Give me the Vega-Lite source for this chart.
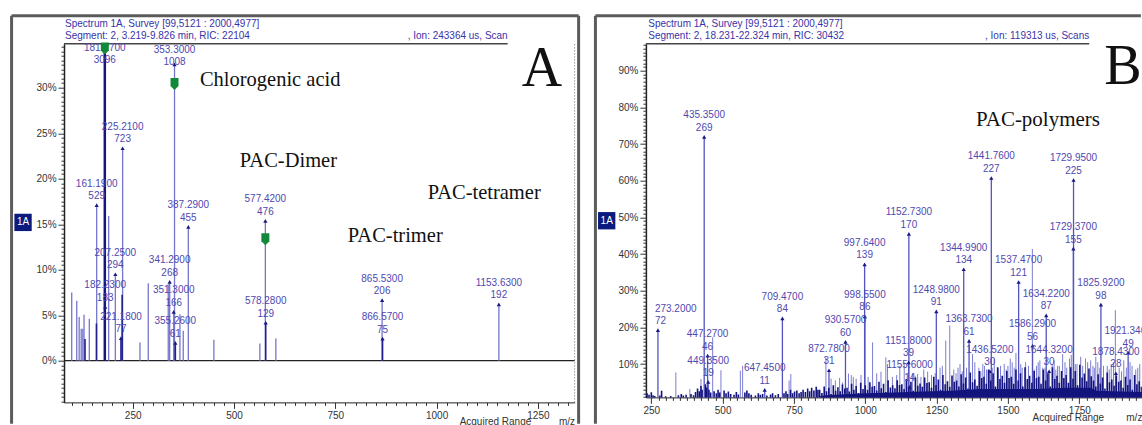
{
"$schema": "https://vega.github.io/schema/vega-lite/v6.json",
"background": "white",
"padding": {"left": 10, "top": 13.7, "right": 0, "bottom": 0},
"spacing": 12.9,
"config": {"view": {"stroke": null}, "font": "Liberation Sans",
 "axis": {"labelFont": "Liberation Sans", "labelFontSize": 10, "labelColor": "#333", "domainColor": "#222", "tickColor": "#333", "grid": false, "labelOverlap": false, "labelFlush": false, "labelPadding": 2, "titleFont": "Liberation Sans"}},
"datasets": {
 "pA": [
  {"mz": 99.6, "pct": 7.5, "tone": "light"},
  {"mz": 112, "pct": 6.6, "tone": "light"},
  {"mz": 118, "pct": 4.8, "tone": "light"},
  {"mz": 123, "pct": 3.5, "tone": "light"},
  {"mz": 127, "pct": 3.5, "tone": "light"},
  {"mz": 130, "pct": 5.05, "tone": "light"},
  {"mz": 132.4, "pct": 2.4, "tone": "dark"},
  {"mz": 143, "pct": 4.6, "tone": "light"},
  {"mz": 161.19, "pct": 17.09, "tone": "light", "lbl": "161.1900\n529"},
  {"mz": 160.6, "pct": 4.1, "tone": "dark"},
  {"mz": 181.27, "pct": 100, "tone": "base"},
  {"mz": 182.23, "pct": 5.91, "tone": "dark", "lbl": "182.2300\n183"},
  {"mz": 190.8, "pct": 15.9, "tone": "light"},
  {"mz": 207.25, "pct": 9.5, "tone": "light", "lbl": "207.2500\n294"},
  {"mz": 221.18, "pct": 2.49, "tone": "dark", "lbl": "221.1800\n77"},
  {"mz": 224, "pct": 7.25, "tone": "dark"},
  {"mz": 225.21, "pct": 23.35, "tone": "light", "lbl": "225.2100\n723"},
  {"mz": 268, "pct": 2.0, "tone": "light"},
  {"mz": 288.5, "pct": 8.5, "tone": "light"},
  {"mz": 337.8, "pct": 8.4, "tone": "light"},
  {"mz": 341.29, "pct": 8.66, "tone": "light", "lbl": "341.2900\n268"},
  {"mz": 351.3, "pct": 5.36, "tone": "light", "lbl": "351.3000\n166"},
  {"mz": 353.3, "pct": 32.56, "tone": "light", "lbl": "353.3000\n1008"},
  {"mz": 355.26, "pct": 1.97, "tone": "dark", "lbl": "355.2600\n61"},
  {"mz": 366.6, "pct": 5.1, "tone": "light"},
  {"mz": 374.8, "pct": 3.3, "tone": "light"},
  {"mz": 387.29, "pct": 14.7, "tone": "light", "lbl": "387.2900\n455"},
  {"mz": 450.4, "pct": 2.3, "tone": "light"},
  {"mz": 563.9, "pct": 1.9, "tone": "light"},
  {"mz": 577.42, "pct": 15.37, "tone": "light", "lbl": "577.4200\n476"},
  {"mz": 578.28, "pct": 4.17, "tone": "dark", "lbl": "578.2800\n129"},
  {"mz": 603.3, "pct": 2.45, "tone": "light"},
  {"mz": 865.53, "pct": 6.65, "tone": "light", "lbl": "865.5300\n206"},
  {"mz": 866.57, "pct": 2.42, "tone": "dark", "lbl": "866.5700\n75"},
  {"mz": 1153.63, "pct": 6.2, "tone": "light", "lbl": "1153.6300\n192"}
 ],
 "greenA": [{"mz": 181.27, "pct": 34.3}, {"mz": 353.3, "pct": 30.4}, {"mz": 577.42, "pct": 13.35}],
 "annA": [
  {"mz": 416, "pct": 30.2, "txt": "Chlorogenic acid"},
  {"mz": 514.5, "pct": 21.3, "txt": "PAC-Dimer"},
  {"mz": 978, "pct": 17.8, "txt": "PAC-tetramer"},
  {"mz": 781, "pct": 13.1, "txt": "PAC-trimer"}
 ],
 "hdrA": [
  {"mz": 83.1, "pct": 37.0, "txt": "Spectrum 1A, Survey [99,5121 : 2000,4977]"},
  {"mz": 83.1, "pct": 35.71, "txt": "Segment: 2, 3.219-9.826 min, RIC: 22104"}
 ],
 "peakB": [
  {"mz": 273.2, "pct": 19.27, "lbl": "273.2000\n72"},
  {"mz": 435.35, "pct": 72.0, "lbl": "435.3500\n269"},
  {"mz": 447.27, "pct": 12.31, "lbl": "447.2700\n46"},
  {"mz": 449.35, "pct": 5.09, "lbl": "449.3500\n19"},
  {"mz": 647.45, "pct": 2.94, "lbl": "647.4500\n11"},
  {"mz": 709.47, "pct": 22.48, "lbl": "709.4700\n84"},
  {"mz": 872.78, "pct": 8.3, "lbl": "872.7800\n31"},
  {"mz": 930.57, "pct": 16.06, "lbl": "930.5700\n60"},
  {"mz": 997.64, "pct": 37.21, "lbl": "997.6400\n139"},
  {"mz": 998.55, "pct": 23.02, "lbl": "998.5500\n86"},
  {"mz": 1151.8, "pct": 10.44, "lbl": "1151.8000\n39"},
  {"mz": 1152.73, "pct": 45.5, "lbl": "1152.7300\n170"},
  {"mz": 1155.6, "pct": 3.75, "lbl": "1155.6000\n14"},
  {"mz": 1248.98, "pct": 24.36, "lbl": "1248.9800\n91"},
  {"mz": 1344.99, "pct": 35.87, "lbl": "1344.9900\n134"},
  {"mz": 1363.73, "pct": 16.33, "lbl": "1363.7300\n61"},
  {"mz": 1436.52, "pct": 8.03, "lbl": "1436.5200\n30"},
  {"mz": 1441.76, "pct": 60.76, "lbl": "1441.7600\n227"},
  {"mz": 1537.47, "pct": 32.39, "lbl": "1537.4700\n121"},
  {"mz": 1586.29, "pct": 14.99, "lbl": "1586.2900\n56"},
  {"mz": 1634.22, "pct": 23.29, "lbl": "1634.2200\n87"},
  {"mz": 1644.32, "pct": 8.03, "lbl": "1644.3200\n30"},
  {"mz": 1729.37, "pct": 41.49, "lbl": "1729.3700\n155"},
  {"mz": 1729.95, "pct": 60.22, "lbl": "1729.9500\n225"},
  {"mz": 1825.92, "pct": 26.23, "lbl": "1825.9200\n98"},
  {"mz": 1878.43, "pct": 7.49, "lbl": "1878.4300\n28"},
  {"mz": 1921.34, "pct": 13.12, "lbl": "1921.3400\n49"}
 ],
 "spikeB": [
  {"mz": 336, "pct": 7.7}, {"mz": 385, "pct": 3.2}, {"mz": 424, "pct": 5.9}, {"mz": 465, "pct": 17.3}, {"mz": 494, "pct": 8.3},
  {"mz": 562, "pct": 8.2}, {"mz": 570, "pct": 9.5}, {"mz": 733, "pct": 5.5}, {"mz": 739, "pct": 7.3}, {"mz": 862, "pct": 11.8},
  {"mz": 880, "pct": 6.0}, {"mz": 895, "pct": 5.5}, {"mz": 910, "pct": 6.2}, {"mz": 920, "pct": 5.0}, {"mz": 941, "pct": 7.4},
  {"mz": 951, "pct": 7.0}, {"mz": 958, "pct": 6.5}, {"mz": 968, "pct": 6.0}, {"mz": 985, "pct": 7.0}, {"mz": 1010, "pct": 6.5},
  {"mz": 1025.6, "pct": 15.9}, {"mz": 1040, "pct": 7.5}, {"mz": 1055, "pct": 7.9}, {"mz": 1072, "pct": 11.8}, {"mz": 1078, "pct": 10.0},
  {"mz": 1095, "pct": 6.5}, {"mz": 1110, "pct": 7.0}, {"mz": 1121, "pct": 9.5}, {"mz": 1136.5, "pct": 10.5}, {"mz": 1150, "pct": 6.0},
  {"mz": 1165, "pct": 7.5}, {"mz": 1175, "pct": 6.8}, {"mz": 1183.5, "pct": 7.3}, {"mz": 1195, "pct": 6.5}, {"mz": 1205, "pct": 8.5},
  {"mz": 1218.6, "pct": 7.9}, {"mz": 1232, "pct": 7.0}, {"mz": 1245, "pct": 7.5}, {"mz": 1262, "pct": 9.0}, {"mz": 1270, "pct": 9.5},
  {"mz": 1282, "pct": 16.4}, {"mz": 1296, "pct": 20.5}, {"mz": 1310, "pct": 8.5}, {"mz": 1318, "pct": 7.5}, {"mz": 1325, "pct": 9.0},
  {"mz": 1332, "pct": 10.0}, {"mz": 1340, "pct": 8.0}, {"mz": 1355, "pct": 9.0}, {"mz": 1376, "pct": 12.7}, {"mz": 1384, "pct": 10.5},
  {"mz": 1398, "pct": 9.0}, {"mz": 1405, "pct": 8.0}, {"mz": 1412, "pct": 10.0}, {"mz": 1418, "pct": 9.5}, {"mz": 1425, "pct": 8.5},
  {"mz": 1445, "pct": 9.0}, {"mz": 1452, "pct": 11.5}, {"mz": 1466, "pct": 8.8}, {"mz": 1474, "pct": 9.5}, {"mz": 1487, "pct": 10.0},
  {"mz": 1494, "pct": 8.5}, {"mz": 1500, "pct": 9.5}, {"mz": 1508, "pct": 11.5}, {"mz": 1515, "pct": 10.5}, {"mz": 1522, "pct": 9.0},
  {"mz": 1528, "pct": 13.0}, {"mz": 1545, "pct": 10.0}, {"mz": 1550, "pct": 9.0}, {"mz": 1562, "pct": 10.5}, {"mz": 1572, "pct": 9.5},
  {"mz": 1585.6, "pct": 41.4}, {"mz": 1592, "pct": 8.5}, {"mz": 1600, "pct": 9.5}, {"mz": 1606, "pct": 10.5}, {"mz": 1612, "pct": 11.0},
  {"mz": 1622, "pct": 9.0}, {"mz": 1630, "pct": 9.0}, {"mz": 1655, "pct": 10.0}, {"mz": 1662, "pct": 11.0}, {"mz": 1668, "pct": 8.5},
  {"mz": 1674, "pct": 9.5}, {"mz": 1680, "pct": 9.5}, {"mz": 1691.7, "pct": 12.7}, {"mz": 1700, "pct": 10.5}, {"mz": 1706, "pct": 9.0},
  {"mz": 1716, "pct": 11.5}, {"mz": 1722, "pct": 12.5}, {"mz": 1736, "pct": 10.0}, {"mz": 1742, "pct": 10.0}, {"mz": 1755, "pct": 12.0},
  {"mz": 1762, "pct": 9.5}, {"mz": 1772, "pct": 11.5}, {"mz": 1779.4, "pct": 10.5}, {"mz": 1790, "pct": 11.0}, {"mz": 1798, "pct": 9.5},
  {"mz": 1803, "pct": 9.0}, {"mz": 1808, "pct": 12.0}, {"mz": 1815, "pct": 10.5}, {"mz": 1822, "pct": 9.0}, {"mz": 1835, "pct": 9.5},
  {"mz": 1848, "pct": 9.5}, {"mz": 1855, "pct": 8.5}, {"mz": 1862, "pct": 10.0}, {"mz": 1870, "pct": 10.5}, {"mz": 1876.5, "pct": 24.7},
  {"mz": 1890, "pct": 9.0}, {"mz": 1898, "pct": 8.0}, {"mz": 1906, "pct": 11.0}, {"mz": 1915, "pct": 9.0}, {"mz": 1928, "pct": 10.5},
  {"mz": 1935, "pct": 9.5}, {"mz": 1948, "pct": 8.5}, {"mz": 1955, "pct": 9.0}, {"mz": 1962, "pct": 10.0}
 ],
 "baseB": [
  {"mz": 842, "pct": 1.3}, {"mz": 860, "pct": 1.5}, {"mz": 1000, "pct": 2.0}, {"mz": 1100, "pct": 2.2},
  {"mz": 1200, "pct": 2.5}, {"mz": 1300, "pct": 2.7}, {"mz": 1400, "pct": 3.2}, {"mz": 1500, "pct": 3.2}, {"mz": 1600, "pct": 3.2},
  {"mz": 1700, "pct": 3.5}, {"mz": 1790, "pct": 3.5}, {"mz": 1810, "pct": 2.7}, {"mz": 1900, "pct": 2.5}, {"mz": 1969.5, "pct": 2.4}
 ],
 "grassB": [
  {"mz": 235, "pct": 2.0}, {"mz": 242, "pct": 1.6}, {"mz": 250, "pct": 2.3}, {"mz": 256, "pct": 1.5}, {"mz": 262, "pct": 1.3},
  {"mz": 280, "pct": 1.4}, {"mz": 286, "pct": 2.7}, {"mz": 300, "pct": 1.2}, {"mz": 318, "pct": 1.3}, {"mz": 345, "pct": 1.5},
  {"mz": 355, "pct": 1.8}, {"mz": 362, "pct": 1.4}, {"mz": 372, "pct": 1.6}, {"mz": 389, "pct": 1.8}, {"mz": 398, "pct": 1.5},
  {"mz": 405, "pct": 2.4}, {"mz": 412, "pct": 3.3}, {"mz": 418, "pct": 2.6}, {"mz": 424, "pct": 4.0}, {"mz": 428, "pct": 3.0},
  {"mz": 440, "pct": 4.5}, {"mz": 444, "pct": 3.6}, {"mz": 452, "pct": 3.0}, {"mz": 458, "pct": 2.2}, {"mz": 470, "pct": 2.6},
  {"mz": 478, "pct": 2.0}, {"mz": 484, "pct": 3.0}, {"mz": 490, "pct": 2.2}, {"mz": 505, "pct": 2.8}, {"mz": 512, "pct": 2.0},
  {"mz": 520, "pct": 2.5}, {"mz": 528, "pct": 1.8}, {"mz": 540, "pct": 1.6}, {"mz": 548, "pct": 2.4}, {"mz": 555, "pct": 1.7},
  {"mz": 578, "pct": 2.2}, {"mz": 585, "pct": 2.8}, {"mz": 592, "pct": 2.0}, {"mz": 600, "pct": 1.6}, {"mz": 615, "pct": 1.4},
  {"mz": 625, "pct": 2.0}, {"mz": 632, "pct": 1.6}, {"mz": 640, "pct": 1.8}, {"mz": 655, "pct": 1.4}, {"mz": 668, "pct": 1.7},
  {"mz": 675, "pct": 2.0}, {"mz": 685, "pct": 1.5}, {"mz": 695, "pct": 1.8}, {"mz": 715, "pct": 2.0}, {"mz": 722, "pct": 2.6},
  {"mz": 728, "pct": 1.8}, {"mz": 738, "pct": 3.0}, {"mz": 745, "pct": 2.0}, {"mz": 752, "pct": 2.5}, {"mz": 760, "pct": 2.8},
  {"mz": 768, "pct": 2.0}, {"mz": 775, "pct": 2.4}, {"mz": 782, "pct": 3.0}, {"mz": 790, "pct": 2.4}, {"mz": 798, "pct": 3.3},
  {"mz": 805, "pct": 2.6}, {"mz": 812, "pct": 3.5}, {"mz": 820, "pct": 2.8}, {"mz": 828, "pct": 3.8}, {"mz": 834, "pct": 3.0},
  {"mz": 840, "pct": 3.0}, {"mz": 848, "pct": 2.1}, {"mz": 856, "pct": 3.9}, {"mz": 864, "pct": 2.6}, {"mz": 872, "pct": 3.5},
  {"mz": 880, "pct": 1.8}, {"mz": 888, "pct": 4.2}, {"mz": 896, "pct": 2.7}, {"mz": 904, "pct": 3.7}, {"mz": 912, "pct": 2.6},
  {"mz": 920, "pct": 4.4}, {"mz": 928, "pct": 3.3}, {"mz": 936, "pct": 3.5}, {"mz": 944, "pct": 2.5}, {"mz": 952, "pct": 4.6},
  {"mz": 960, "pct": 3.0}, {"mz": 968, "pct": 4.0}, {"mz": 976, "pct": 2.1}, {"mz": 984, "pct": 4.9}, {"mz": 992, "pct": 3.2},
  {"mz": 1000, "pct": 4.2}, {"mz": 1008, "pct": 3.0}, {"mz": 1016, "pct": 5.0}, {"mz": 1024, "pct": 3.8}, {"mz": 1032, "pct": 4.0},
  {"mz": 1040, "pct": 2.8}, {"mz": 1048, "pct": 5.2}, {"mz": 1056, "pct": 3.4}, {"mz": 1064, "pct": 4.6}, {"mz": 1072, "pct": 2.4},
  {"mz": 1080, "pct": 5.6}, {"mz": 1088, "pct": 3.6}, {"mz": 1096, "pct": 4.2}, {"mz": 1104, "pct": 3.4}, {"mz": 1112, "pct": 5.6},
  {"mz": 1120, "pct": 4.3}, {"mz": 1128, "pct": 4.5}, {"mz": 1136, "pct": 3.2}, {"mz": 1144, "pct": 5.9}, {"mz": 1152, "pct": 3.8},
  {"mz": 1160, "pct": 5.2}, {"mz": 1168, "pct": 2.7}, {"mz": 1176, "pct": 6.3}, {"mz": 1184, "pct": 4.1}, {"mz": 1192, "pct": 4.7},
  {"mz": 1200, "pct": 3.8}, {"mz": 1208, "pct": 6.3}, {"mz": 1216, "pct": 4.8}, {"mz": 1224, "pct": 5.0}, {"mz": 1232, "pct": 3.5},
  {"mz": 1240, "pct": 6.5}, {"mz": 1248, "pct": 4.3}, {"mz": 1256, "pct": 5.8}, {"mz": 1264, "pct": 3.0}, {"mz": 1272, "pct": 7.0},
  {"mz": 1280, "pct": 4.5}, {"mz": 1288, "pct": 5.3}, {"mz": 1296, "pct": 3.8}, {"mz": 1304, "pct": 6.9}, {"mz": 1312, "pct": 5.2},
  {"mz": 1320, "pct": 5.5}, {"mz": 1328, "pct": 3.9}, {"mz": 1336, "pct": 7.2}, {"mz": 1344, "pct": 4.7}, {"mz": 1352, "pct": 6.3},
  {"mz": 1360, "pct": 3.3}, {"mz": 1368, "pct": 7.7}, {"mz": 1376, "pct": 5.0}, {"mz": 1384, "pct": 5.8}, {"mz": 1392, "pct": 4.1},
  {"mz": 1400, "pct": 8.1}, {"mz": 1408, "pct": 6.2}, {"mz": 1416, "pct": 6.5}, {"mz": 1424, "pct": 4.6}, {"mz": 1432, "pct": 8.5},
  {"mz": 1440, "pct": 5.5}, {"mz": 1448, "pct": 7.5}, {"mz": 1456, "pct": 3.9}, {"mz": 1464, "pct": 9.1}, {"mz": 1472, "pct": 5.9},
  {"mz": 1480, "pct": 6.8}, {"mz": 1488, "pct": 4.9}, {"mz": 1496, "pct": 8.1}, {"mz": 1504, "pct": 6.2}, {"mz": 1512, "pct": 6.5},
  {"mz": 1520, "pct": 4.6}, {"mz": 1528, "pct": 8.5}, {"mz": 1536, "pct": 5.5}, {"mz": 1544, "pct": 7.5}, {"mz": 1552, "pct": 3.9},
  {"mz": 1560, "pct": 9.1}, {"mz": 1568, "pct": 5.9}, {"mz": 1576, "pct": 6.8}, {"mz": 1584, "pct": 4.9}, {"mz": 1592, "pct": 8.1},
  {"mz": 1600, "pct": 6.2}, {"mz": 1608, "pct": 6.5}, {"mz": 1616, "pct": 4.6}, {"mz": 1624, "pct": 8.5}, {"mz": 1632, "pct": 5.5},
  {"mz": 1640, "pct": 7.5}, {"mz": 1648, "pct": 3.9}, {"mz": 1656, "pct": 9.1}, {"mz": 1664, "pct": 5.9}, {"mz": 1672, "pct": 6.8},
  {"mz": 1680, "pct": 4.9}, {"mz": 1688, "pct": 8.1}, {"mz": 1696, "pct": 6.2}, {"mz": 1704, "pct": 7.0}, {"mz": 1712, "pct": 4.9},
  {"mz": 1720, "pct": 9.1}, {"mz": 1728, "pct": 6.0}, {"mz": 1736, "pct": 8.1}, {"mz": 1744, "pct": 4.2}, {"mz": 1752, "pct": 9.8},
  {"mz": 1760, "pct": 6.3}, {"mz": 1768, "pct": 7.4}, {"mz": 1776, "pct": 5.3}, {"mz": 1784, "pct": 8.8}, {"mz": 1792, "pct": 6.7},
  {"mz": 1800, "pct": 5.5}, {"mz": 1808, "pct": 3.9}, {"mz": 1816, "pct": 7.2}, {"mz": 1824, "pct": 4.7}, {"mz": 1832, "pct": 6.3},
  {"mz": 1840, "pct": 3.3}, {"mz": 1848, "pct": 7.7}, {"mz": 1856, "pct": 5.0}, {"mz": 1864, "pct": 5.8}, {"mz": 1872, "pct": 4.1},
  {"mz": 1880, "pct": 6.9}, {"mz": 1888, "pct": 5.2}, {"mz": 1896, "pct": 5.5}, {"mz": 1904, "pct": 3.5}, {"mz": 1912, "pct": 6.5},
  {"mz": 1920, "pct": 4.3}, {"mz": 1928, "pct": 5.8}, {"mz": 1936, "pct": 3.0}, {"mz": 1944, "pct": 7.0}, {"mz": 1952, "pct": 4.5},
  {"mz": 1960, "pct": 5.3}, {"mz": 1968, "pct": 3.8}
 ],
 "hdrB": [
  {"mz": 239.2, "pct": 102.75, "txt": "Spectrum 1A, Survey [99,5121 : 2000,4977]"},
  {"mz": 239.2, "pct": 99.56, "txt": "Segment: 2, 18.231-22.324 min, RIC: 30432"}
 ]
},
"hconcat": [
 {
  "width": 510.6, "height": 358.7,
  "layer": [
   {"data": {"values": [{}]}, "mark": {"type": "rule", "stroke": "#5b5b5b", "strokeWidth": 3},
    "encoding": {
     "x": {"datum": -48.8, "type": "quantitative", "scale": {"domain": [80.6, 1340.5], "nice": false, "zero": false},
      "axis": {"values": [100,125,150,175,200,225,250,275,300,325,350,375,400,425,450,475,500,525,550,575,600,625,650,675,700,725,750,775,800,825,850,875,900,925,950,975,1000,1025,1050,1075,1100,1125,1150,1175,1200,1225,1250,1275,1300,1325],
       "tickCount": 1000, "format": "d", "labelExpr": "datum.value % 250 === 0 ? datum.label : ''", "labelOverlap": false,
       "tickSize": {"condition": {"test": "datum.value % 250 === 0", "value": 6}, "value": 3},
       "title": "Acquired Range\u00a0\u00a0\u00a0\u00a0\u00a0\u00a0\u00a0\u00a0\u00a0\u00a0m/z", "titleAnchor": "end", "titleFontWeight": "normal", "titleFontSize": 10, "titleColor": "#333", "titlePadding": -4}},
     "y": {"datum": -6.92, "type": "quantitative", "scale": {"domain": [-4.58, 34.84], "nice": false, "zero": false},
      "axis": {"values": [-4.5,-4,-3.5,-3,-2.5,-2,-1.5,-1,-0.5,0,0.5,1,1.5,2,2.5,3,3.5,4,4.5,5,5.5,6,6.5,7,7.5,8,8.5,9,9.5,10,10.5,11,11.5,12,12.5,13,13.5,14,14.5,15,15.5,16,16.5,17,17.5,18,18.5,19,19.5,20,20.5,21,21.5,22,22.5,23,23.5,24,24.5,25,25.5,26,26.5,27,27.5,28,28.5,29,29.5,30,30.5,31,31.5,32,32.5,33,33.5,34,34.5],
       "tickCount": 1000, "labelExpr": "datum.value % 5 === 0 ? datum.value + '%' : ''", "labelOverlap": false,
       "tickSize": {"condition": {"test": "datum.value % 5 === 0", "value": 6}, "value": 3},
       "title": null, "domainWidth": 1.5}},
     "y2": {"datum": 37.9}}},
   {"data": {"values": [{}]}, "mark": {"type": "rule", "stroke": "#5b5b5b", "strokeWidth": 3},
    "encoding": {"x": {"datum": -48.8}, "x2": {"datum": 1350.4}, "y": {"datum": 37.9}}},
   {"data": {"values": [{}]}, "mark": {"type": "rule", "stroke": "#5b5b5b", "strokeWidth": 3},
    "encoding": {"x": {"datum": 1350.4}, "y": {"datum": -6.92}, "y2": {"datum": 37.9}}},
   {"data": {"values": [{}]}, "mark": {"type": "rule", "stroke": "#666", "strokeWidth": 1, "strokeDash": [1, 2]},
    "encoding": {"x": {"datum": 1340.5}, "y": {"datum": -4.58}, "y2": {"datum": 34.84}}},
   {"data": {"values": [{}]}, "mark": {"type": "rule", "stroke": "#444", "strokeWidth": 1.5},
    "encoding": {"x": {"datum": 80.6}, "x2": {"datum": 1175.3}, "y": {"datum": 34.84}}},
   {"data": {"values": [{}]}, "mark": {"type": "rule", "stroke": "#222", "strokeWidth": 1.2},
    "encoding": {"y": {"datum": 0}}},
   {"data": {"name": "pA"}, "transform": [{"filter": "datum.tone === 'light'"}],
    "mark": {"type": "rule", "stroke": "#7676cc", "strokeWidth": 1.3, "clip": true},
    "encoding": {"x": {"field": "mz", "type": "quantitative"}, "y": {"field": "pct", "type": "quantitative"}, "y2": {"datum": 0}}},
   {"data": {"name": "pA"}, "transform": [{"filter": "datum.tone === 'dark'"}],
    "mark": {"type": "rule", "stroke": "#20208e", "strokeWidth": 1.6, "clip": true},
    "encoding": {"x": {"field": "mz", "type": "quantitative"}, "y": {"field": "pct", "type": "quantitative"}, "y2": {"datum": 0}}},
   {"data": {"name": "pA"}, "transform": [{"filter": "datum.tone === 'base'"}],
    "mark": {"type": "rule", "stroke": "#15157f", "strokeWidth": 2.5, "clip": true},
    "encoding": {"x": {"field": "mz", "type": "quantitative"}, "y": {"field": "pct", "type": "quantitative"}, "y2": {"datum": 0}}},
   {"data": {"name": "pA"}, "transform": [{"filter": "datum.lbl && datum.pct < 34"}],
    "mark": {"type": "point", "shape": "triangle-up", "filled": true, "size": 18, "color": "#1a1a85", "opacity": 1},
    "encoding": {"x": {"field": "mz", "type": "quantitative"}, "y": {"field": "pct", "type": "quantitative"}}},
   {"data": {"name": "pA"}, "transform": [{"filter": "datum.lbl && datum.pct < 30"}],
    "mark": {"type": "text", "baseline": "bottom", "align": "center", "dy": -16.5, "fontSize": 10, "lineHeight": 12.5, "lineBreak": "\n", "color": "#5048b0"},
    "encoding": {"x": {"field": "mz", "type": "quantitative"}, "y": {"field": "pct", "type": "quantitative"}, "text": {"field": "lbl"}}},
   {"data": {"name": "pA"}, "transform": [{"filter": "datum.lbl && datum.pct > 30 && datum.pct < 34"}],
    "mark": {"type": "text", "baseline": "bottom", "align": "center", "dy": -9.5, "fontSize": 10, "lineHeight": 12.5, "lineBreak": "\n", "color": "#5048b0"},
    "encoding": {"x": {"field": "mz", "type": "quantitative"}, "y": {"field": "pct", "type": "quantitative"}, "text": {"field": "lbl"}}},
   {"data": {"values": [{"mz": 181.27, "pct": 34.84, "lbl": "181.2700\n3096"}]},
    "mark": {"type": "text", "baseline": "top", "align": "center", "dy": -1, "fontSize": 10, "lineHeight": 12.5, "lineBreak": "\n", "color": "#5048b0"},
    "encoding": {"x": {"field": "mz", "type": "quantitative"}, "y": {"field": "pct", "type": "quantitative"}, "text": {"field": "lbl"}}},
   {"data": {"name": "greenA"},
    "mark": {"type": "point", "shape": "M-1,-1.5L1,-1.5L1,0.5L0,1.5L-1,0.5Z", "filled": true, "size": 64, "color": "#12893a", "opacity": 1},
    "encoding": {"x": {"field": "mz", "type": "quantitative"}, "y": {"field": "pct", "type": "quantitative"}}},
   {"data": {"name": "annA"},
    "mark": {"type": "text", "align": "left", "baseline": "alphabetic", "font": "Liberation Serif", "fontSize": 20.5, "color": "#111"},
    "encoding": {"x": {"field": "mz", "type": "quantitative"}, "y": {"field": "pct", "type": "quantitative"}, "text": {"field": "txt"}}},
   {"data": {"values": [{"mz": 1260, "pct": 30.2, "txt": "A"}]},
    "mark": {"type": "text", "align": "center", "baseline": "alphabetic", "font": "Liberation Serif", "fontSize": 56, "color": "#111"},
    "encoding": {"x": {"field": "mz", "type": "quantitative"}, "y": {"field": "pct", "type": "quantitative"}, "text": {"field": "txt"}}},
   {"data": {"name": "hdrA"},
    "mark": {"type": "text", "align": "left", "baseline": "middle", "fontSize": 10, "color": "#3a32a8"},
    "encoding": {"x": {"field": "mz", "type": "quantitative"}, "y": {"field": "pct", "type": "quantitative"}, "text": {"field": "txt"}}},
   {"data": {"values": [{"mz": 1175.3, "pct": 35.71, "txt": ", Ion: 243364 us, Scan"}]},
    "mark": {"type": "text", "align": "right", "baseline": "middle", "fontSize": 10, "color": "#3a32a8"},
    "encoding": {"x": {"field": "mz", "type": "quantitative"}, "y": {"field": "pct", "type": "quantitative"}, "text": {"field": "txt"}}},
   {"data": {"values": [{"mz": -20.5, "pct": 15.2, "txt": "1A"}]},
    "mark": {"type": "point", "shape": "square", "filled": true, "size": 300, "color": "#0b1b7d", "opacity": 1},
    "encoding": {"x": {"field": "mz", "type": "quantitative"}, "y": {"field": "pct", "type": "quantitative"}}},
   {"data": {"values": [{"mz": -20.5, "pct": 15.2, "txt": "1A"}]},
    "mark": {"type": "text", "align": "center", "baseline": "middle", "fontSize": 10, "color": "white"},
    "encoding": {"x": {"field": "mz", "type": "quantitative"}, "y": {"field": "pct", "type": "quantitative"}, "text": {"field": "txt"}}}
  ]
 },
 {
  "width": 496, "height": 353.7,
  "layer": [
   {"data": {"values": [{}]}, "mark": {"type": "rule", "stroke": "#5b5b5b", "strokeWidth": 3},
    "encoding": {
     "x": {"datum": 54.1, "type": "quantitative", "scale": {"domain": [231, 1969.5], "nice": false, "zero": false},
      "axis": {"values": [250,275,300,325,350,375,400,425,450,475,500,525,550,575,600,625,650,675,700,725,750,775,800,825,850,875,900,925,950,975,1000,1025,1050,1075,1100,1125,1150,1175,1200,1225,1250,1275,1300,1325,1350,1375,1400,1425,1450,1475,1500,1525,1550,1575,1600,1625,1650,1675,1700,1725,1750,1775,1800,1825,1850,1875,1900,1925,1950],
       "tickCount": 1000, "format": "d", "labelExpr": "datum.value % 250 === 0 ? datum.label : ''", "labelOverlap": false,
       "tickSize": {"condition": {"test": "datum.value % 250 === 0", "value": 6}, "value": 3},
       "title": "Acquired Range\u00a0\u00a0\u00a0\u00a0\u00a0\u00a0\u00a0\u00a0m/z", "titleAnchor": "end", "titleFontWeight": "normal", "titleFontSize": 10, "titleColor": "#333", "titlePadding": -3}},
     "y": {"datum": -6.3, "type": "quantitative", "scale": {"domain": [0.9, 97.4], "nice": false, "zero": false},
      "axis": {"values": [1,2,3,4,5,6,7,8,9,10,11,12,13,14,15,16,17,18,19,20,21,22,23,24,25,26,27,28,29,30,31,32,33,34,35,36,37,38,39,40,41,42,43,44,45,46,47,48,49,50,51,52,53,54,55,56,57,58,59,60,61,62,63,64,65,66,67,68,69,70,71,72,73,74,75,76,77,78,79,80,81,82,83,84,85,86,87,88,89,90,91,92,93,94,95,96,97],
       "tickCount": 1000, "labelExpr": "datum.value % 10 === 0 ? datum.value + '%' : ''", "labelOverlap": false,
       "tickSize": {"condition": {"test": "datum.value % 10 === 0", "value": 6}, "value": 3},
       "title": null, "domainWidth": 1.5}},
     "y2": {"datum": 105}}},
   {"data": {"values": [{}]}, "mark": {"type": "rule", "stroke": "#5b5b5b", "strokeWidth": 3},
    "encoding": {"x": {"datum": 54.1}, "x2": {"datum": 1966}, "y": {"datum": 105}}},
   {"data": {"values": [{}]}, "mark": {"type": "rule", "stroke": "#444", "strokeWidth": 1.5},
    "encoding": {"x": {"datum": 231}, "x2": {"datum": 1785}, "y": {"datum": 97.4}}},
   {"data": {"name": "spikeB"},
    "mark": {"type": "rule", "stroke": "#7c7cd4", "strokeWidth": 1, "clip": true},
    "encoding": {"x": {"field": "mz", "type": "quantitative"}, "y": {"field": "pct", "type": "quantitative"}, "y2": {"datum": 0}}},
   {"data": {"name": "peakB"},
    "mark": {"type": "rule", "stroke": "#5454c0", "strokeWidth": 1.3, "clip": true},
    "encoding": {"x": {"field": "mz", "type": "quantitative"}, "y": {"field": "pct", "type": "quantitative"}, "y2": {"datum": 0}}},
   {"data": {"name": "baseB"},
    "mark": {"type": "area", "color": "#14147e", "clip": true},
    "encoding": {"x": {"field": "mz", "type": "quantitative"}, "y": {"field": "pct", "type": "quantitative"}, "y2": {"datum": 0}}},
   {"data": {"name": "grassB"},
    "mark": {"type": "rule", "stroke": "#14147e", "strokeWidth": 1.6, "clip": true},
    "encoding": {"x": {"field": "mz", "type": "quantitative"}, "y": {"field": "pct", "type": "quantitative"}, "y2": {"datum": 0}}},
   {"data": {"name": "peakB"},
    "mark": {"type": "point", "shape": "triangle-up", "filled": true, "size": 18, "color": "#1a1a85", "opacity": 1, "clip": true},
    "encoding": {"x": {"field": "mz", "type": "quantitative"}, "y": {"field": "pct", "type": "quantitative"}}},
   {"data": {"name": "peakB"}, "transform": [{"filter": "datum.mz > 300"}],
    "mark": {"type": "text", "baseline": "bottom", "align": "center", "dy": -16.5, "fontSize": 10, "lineHeight": 12.5, "lineBreak": "\n", "color": "#5048b0", "clip": true},
    "encoding": {"x": {"field": "mz", "type": "quantitative"}, "y": {"field": "pct", "type": "quantitative"}, "text": {"field": "lbl"}}},
   {"data": {"name": "peakB"}, "transform": [{"filter": "datum.mz < 300"}],
    "mark": {"type": "text", "baseline": "bottom", "align": "left", "dx": -3, "dy": -16.5, "fontSize": 10, "lineHeight": 12.5, "lineBreak": "\n", "color": "#5048b0"},
    "encoding": {"x": {"field": "mz", "type": "quantitative"}, "y": {"field": "pct", "type": "quantitative"}, "text": {"field": "lbl"}}},
   {"data": {"values": [{"mz": 1388, "pct": 75.0, "txt": "PAC-polymers"}]},
    "mark": {"type": "text", "align": "left", "baseline": "alphabetic", "font": "Liberation Serif", "fontSize": 21, "color": "#111"},
    "encoding": {"x": {"field": "mz", "type": "quantitative"}, "y": {"field": "pct", "type": "quantitative"}, "text": {"field": "txt"}}},
   {"data": {"values": [{"mz": 1903, "pct": 86.5, "txt": "B"}]},
    "mark": {"type": "text", "align": "center", "baseline": "alphabetic", "font": "Liberation Serif", "fontSize": 56, "color": "#111"},
    "encoding": {"x": {"field": "mz", "type": "quantitative"}, "y": {"field": "pct", "type": "quantitative"}, "text": {"field": "txt"}}},
   {"data": {"name": "hdrB"},
    "mark": {"type": "text", "align": "left", "baseline": "middle", "fontSize": 10, "color": "#3a32a8"},
    "encoding": {"x": {"field": "mz", "type": "quantitative"}, "y": {"field": "pct", "type": "quantitative"}, "text": {"field": "txt"}}},
   {"data": {"values": [{"mz": 1784.9, "pct": 99.56, "txt": ", Ion: 119313 us, Scans"}]},
    "mark": {"type": "text", "align": "right", "baseline": "middle", "fontSize": 10, "color": "#3a32a8"},
    "encoding": {"x": {"field": "mz", "type": "quantitative"}, "y": {"field": "pct", "type": "quantitative"}, "text": {"field": "txt"}}},
   {"data": {"values": [{"mz": 93.6, "pct": 49.1, "txt": "1A"}]},
    "mark": {"type": "point", "shape": "square", "filled": true, "size": 300, "color": "#0b1b7d", "opacity": 1},
    "encoding": {"x": {"field": "mz", "type": "quantitative"}, "y": {"field": "pct", "type": "quantitative"}}},
   {"data": {"values": [{"mz": 93.6, "pct": 49.1, "txt": "1A"}]},
    "mark": {"type": "text", "align": "center", "baseline": "middle", "fontSize": 10, "color": "white"},
    "encoding": {"x": {"field": "mz", "type": "quantitative"}, "y": {"field": "pct", "type": "quantitative"}, "text": {"field": "txt"}}}
  ]
 }
]
}
